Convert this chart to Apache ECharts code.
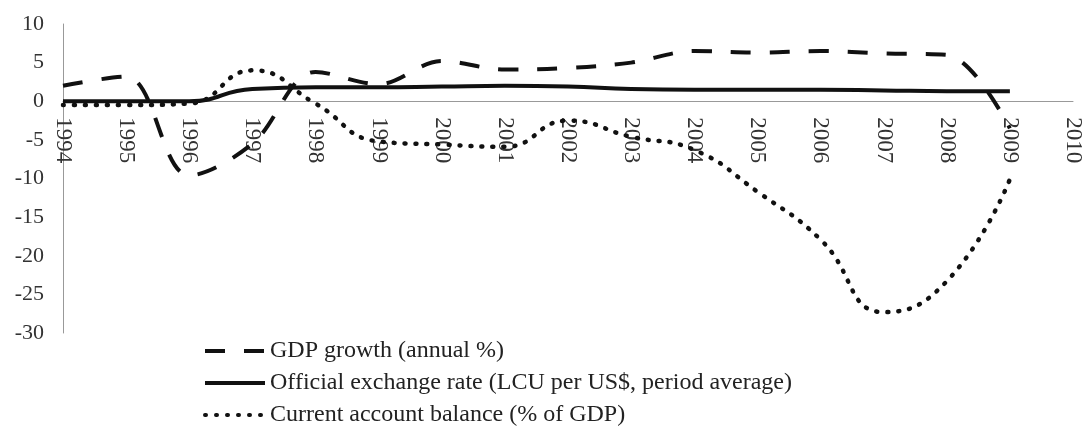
<!DOCTYPE html>
<html>
<head>
<meta charset="utf-8">
<script src="https://cdn.jsdelivr.net/npm/echarts@6/dist/echarts.min.js"></script>
<style>
  html, body { margin: 0; padding: 0; background: #fff; }
  #chart { width: 1085px; height: 439px; }
</style>
</head>
<body>
<div id="chart"></div>
<script>
// Years on the category axis (2010 is an empty slot at the end)
const years = ['1994','1995','1996','1997','1998','1999','2000','2001','2002',
               '2003','2004','2005','2006','2007','2008','2009','2010'];

// GDP growth (annual %)
const gdpGrowth = [2.0, 3.2, -9.6, -5.5, 3.8, 2.2, 5.2, 4.1, 4.3, 5.0, 6.5, 6.3, 6.5, 6.2, 6.0, -3.5];

// Official exchange rate (LCU per US$, period average)
const exchangeRate = [0.0, 0.0, 0.0, 1.6, 1.8, 1.8, 1.9, 2.0, 1.9, 1.6, 1.5, 1.5, 1.5, 1.4, 1.3, 1.3];

// Current account balance (% of GDP)
const currentAccount = [-0.5, -0.5, -0.3, 4.0, -0.3, -5.2, -5.6, -5.9, -2.5, -4.6, -6.3, -11.7, -17.9, -27.3, -23.3, -10.1];

const serif = 'Liberation Serif, Times New Roman, serif';

// grid geometry: the category axis sits on the zero line of the value axis
const gridTop = 24, gridBottom = 106, chartHeight = 439;
const yMin = -30, yMax = 10;
const plotHeight = chartHeight - gridTop - gridBottom;
const zeroOffset = -plotHeight * (0 - yMin) / (yMax - yMin);

const chart = echarts.init(document.getElementById('chart'));

chart.setOption({
  animation: false,
  backgroundColor: '#fff',
  grid: { left: 63, right: 12, top: gridTop, bottom: gridBottom, containLabel: false },
  legend: {
    orient: 'vertical',
    left: 198,
    top: 334,
    itemWidth: 60,
    itemHeight: 14,
    itemGap: 8,
    itemStyle: { opacity: 0 },
    lineStyle: { width: 4 },
    textStyle: { fontFamily: serif, fontSize: 24, color: '#222' },
    data: ['GDP growth (annual %)',
           'Official exchange rate (LCU per US$, period average)',
           'Current account balance (% of GDP)']
  },
  xAxis: {
    type: 'category',
    data: years,
    boundaryGap: false,
    position: 'bottom',
    offset: zeroOffset,
    axisLine: { onZero: false, lineStyle: { color: '#999', width: 1 } },
    axisTick: { show: false },
    axisLabel: {
      rotate: -90,
      margin: 16,
      fontFamily: serif,
      fontSize: 23,
      color: '#333',
      interval: 0
    },
    splitLine: { show: false }
  },
  yAxis: {
    type: 'value',
    min: yMin,
    max: yMax,
    interval: 5,
    axisLine: { show: true, lineStyle: { color: '#999', width: 1 } },
    axisTick: { show: false },
    axisLabel: { margin: 19, fontFamily: serif, fontSize: 22, color: '#333' },
    splitLine: { show: false }
  },
  series: [
    {
      name: 'GDP growth (annual %)',
      type: 'line',
      data: gdpGrowth,
      smooth: 0.35,
      symbol: 'none',
      lineStyle: { color: '#111', width: 4, type: [20, 19], cap: 'butt' },
      itemStyle: { color: '#111' },
      z: 3
    },
    {
      name: 'Official exchange rate (LCU per US$, period average)',
      type: 'line',
      data: exchangeRate,
      smooth: 0.5,
      symbol: 'none',
      lineStyle: { color: '#111', width: 4, type: 'solid' },
      itemStyle: { color: '#111' },
      z: 2
    },
    {
      name: 'Current account balance (% of GDP)',
      type: 'line',
      data: currentAccount,
      smooth: 0.5,
      symbol: 'none',
      lineStyle: { color: '#111', width: 4.5, type: [1, 10], cap: 'round' },
      itemStyle: { color: '#111' },
      z: 1
    }
  ]
});
</script>
</body>
</html>
